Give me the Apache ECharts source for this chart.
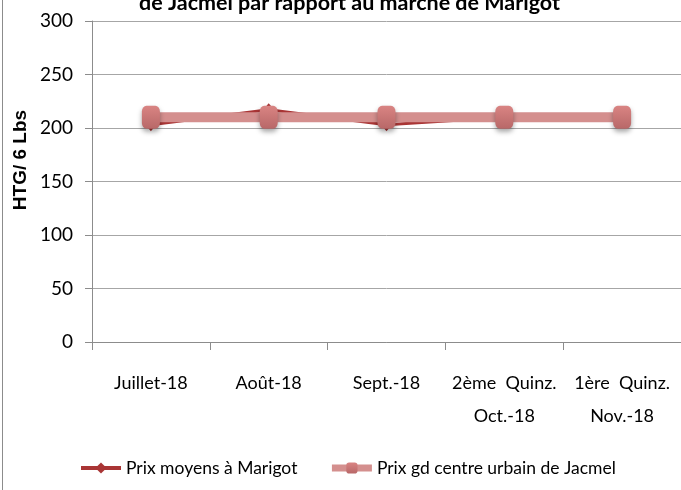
<!DOCTYPE html>
<html>
<head>
<meta charset="utf-8">
<script src="https://cdn.jsdelivr.net/npm/echarts@6/dist/echarts.min.js"></script>
<style>
  html, body { margin: 0; padding: 0; background: #fff; }
  #chart { width: 681px; height: 490px; position: relative; }
  /* bordure gauche du cadre du graphique */
  #frame { position: absolute; left: 2px; top: 0; width: 1px; height: 490px; background: #8c8c8c; }
</style>
</head>
<body>
<div id="chart"></div>
<div id="frame"></div>
<script>
// données
const categories = ['Juillet-18', 'Août-18', 'Sept.-18', '2ème  Quinz.\nOct.-18', '1ère  Quinz.\nNov.-18']
const prixMarigot = [203, 217, 203, 210, 210]
const prixJacmel = [210, 210, 210, 210, 210]
const yTicks = { min: 0, max: 300, interval: 50 }
const yName = 'HTG/ 6 Lbs'

const narrow = 'Lato, "Open Sans", sans-serif'

const chart = echarts.init(document.getElementById('chart'), null, { renderer: 'canvas' })

const option = {
  animation: false,
  title: {
    text: 'de Jacmel par rapport au marché de Marigot',
    left: 134,
    top: -13,
    textStyle: {
      fontFamily: narrow,
      fontWeight: 'bold',
      fontSize: 21.5,
      color: '#000'
    }
  },
  // titre de l'axe vertical, placé à la main comme dans l'original
  graphic: [
    {
      type: 'text',
      x: 21,
      y: 160,
      rotation: Math.PI / 2,
      style: {
        text: yName,
        font: 'bold 19px "Liberation Sans", Arial, sans-serif',
        fill: '#000',
        align: 'center',
        verticalAlign: 'middle'
      }
    }
  ],
  grid: {
    left: 92,
    right: -4,
    top: 21,
    bottom: 148
  },
  legend: {
    bottom: 13,
    left: 79,
    padding: 0,
    itemWidth: 40,
    itemHeight: 14,
    itemGap: 31,
    textStyle: {
      fontFamily: narrow,
      fontSize: 17.5,
      color: '#000'
    },
    data: [
      { name: 'Prix moyens à Marigot', lineStyle: { width: 4 } },
      { name: 'Prix gd centre urbain de Jacmel', lineStyle: { width: 7 } }
    ]
  },
  xAxis: {
    type: 'category',
    data: categories,
    boundaryGap: true,
    axisLine: { lineStyle: { color: '#8c8c8c', width: 1 } },
    axisTick: { show: true, length: 8, lineStyle: { color: '#8c8c8c' } },
    axisLabel: {
      interval: 0,
      margin: 25,
      fontFamily: narrow,
      fontSize: 18,
      lineHeight: 33,
      color: '#000'
    }
  },
  yAxis: {
    type: 'value',
    min: yTicks.min,
    max: yTicks.max,
    interval: yTicks.interval,
    axisLine: { show: true, lineStyle: { color: '#8c8c8c', width: 1 } },
    axisTick: { show: true, length: 7, lineStyle: { color: '#8c8c8c' } },
    axisLabel: {
      margin: 19,
      fontFamily: narrow,
      fontSize: 19,
      color: '#000'
    },
    splitLine: { show: true, lineStyle: { color: '#a6a6a6', width: 1 } }
  },
  series: [
    {
      name: 'Prix moyens à Marigot',
      type: 'line',
      data: prixMarigot,
      symbol: 'diamond',
      symbolSize: [11, 13],
      z: 2,
      lineStyle: { color: '#a93535', width: 3 },
      itemStyle: { color: '#a93535' }
    },
    {
      name: 'Prix gd centre urbain de Jacmel',
      type: 'line',
      data: prixJacmel,
      symbol: 'roundRect',
      symbolSize: [18, 23],
      z: 3,
      lineStyle: { color: '#d48f8e', width: 10 },
      itemStyle: {
        color: {
          type: 'linear',
          x: 0, y: 0, x2: 0, y2: 1,
          colorStops: [
            { offset: 0, color: '#d98483' },
            { offset: 1, color: '#b86868' }
          ]
        },
        borderWidth: 0,
        shadowBlur: 5,
        shadowOffsetY: 3,
        shadowColor: 'rgba(0,0,0,0.35)'
      }
    }
  ]
}

chart.setOption(option)
</script>
</body>
</html>
